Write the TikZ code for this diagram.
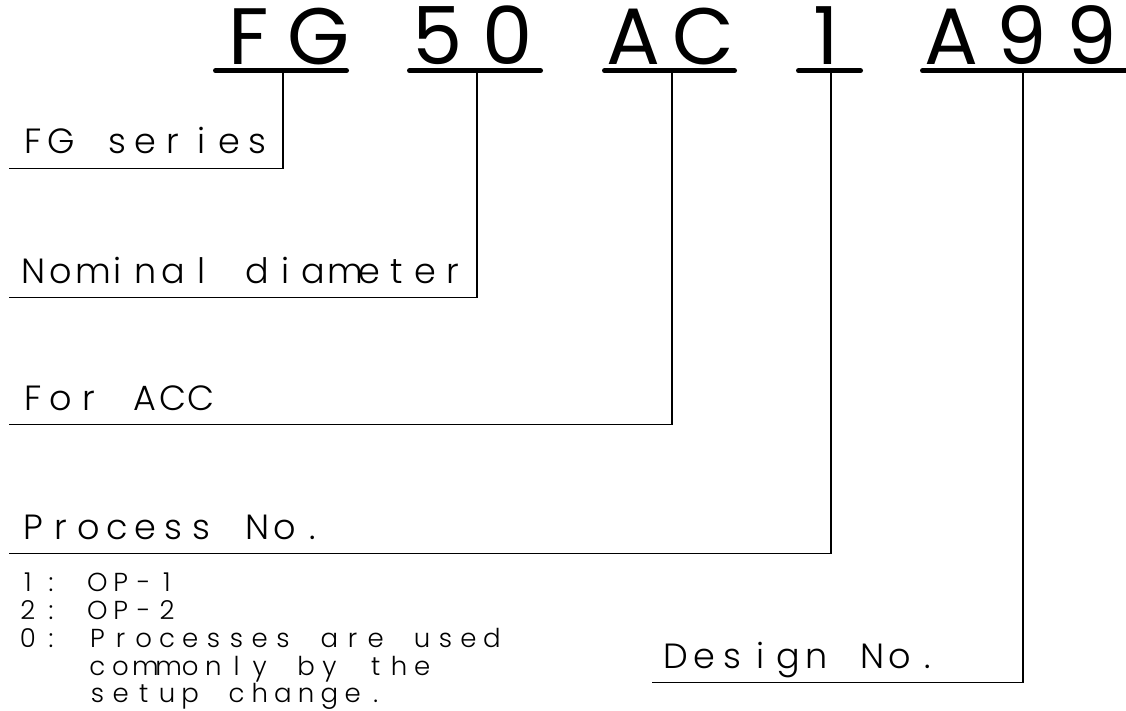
\documentclass[tikz,border=0pt]{standalone}
\usepackage{fontspec}
\newfontfamily\cadbold{Poppins}
\newfontfamily\cadthin{Poppins Light}
\ExplSyntaxOn
\dim_new:N \l_cad_pitch_dim
\seq_new:N \l_cad_words_seq
\NewDocumentCommand\cadtext{mm}
  {
    \dim_set:Nn \l_cad_pitch_dim {#1}
    \seq_set_split:Nnn \l_cad_words_seq {~} {#2}
    \seq_map_indexed_inline:Nn \l_cad_words_seq
      {
        \int_compare:nNnT {##1} > {1} { \hbox_to_wd:nn {\l_cad_pitch_dim} { \hfil } }
        \tl_map_inline:nn {##2} { \hbox_to_wd:nn {\l_cad_pitch_dim} { \hfil ####1 \hfil } }
      }
  }
\ExplSyntaxOff
\tikzset{
  cadtitle/.style={font=\cadbold\fontsize{80}{80}\selectfont, inner sep=0pt, anchor=base},
  cadlabel/.style={font=\cadthin\fontsize{35}{35}\selectfont, inner sep=0pt, anchor=base west},
  cadnote/.style={font=\cadthin\fontsize{26}{26}\selectfont, inner sep=0pt, anchor=base west},
  uline/.style={line width=5pt, line cap=round},
  lead/.style={line width=1.3pt},
}
\begin{document}
\begin{tikzpicture}[x=1pt,y=-1pt]
\useasboundingbox (0,0) rectangle (1126,711);
% title groups
\node[cadtitle] (tFG)  at (283.5,65)  {\cadtext{70pt}{FG}};
\node[cadtitle] (t50)  at (473,65)    {\cadtext{70pt}{50}};
\node[cadtitle] (tAC)  at (668.5,65)  {\cadtext{70pt}{AC}};
\node[cadtitle] (t1)   at (826.5,65)  {\cadtext{70pt}{1}};
\node[cadtitle] (tA99) at (1021.5,65) {\cadtext{70pt}{A99}};
% underlines
\draw[uline] (215.5,70.7) -- (346.5,70.7);
\draw[uline] (409.5,70.7) -- (540.5,70.7);
\draw[uline] (604.5,70.7) -- (734.5,70.7);
\draw[uline] (798.5,70.7) -- (860.5,70.7);
\draw[uline] (922.5,70.7) -- (1130,70.7);
% labels
\node[cadlabel] (lFG) at (19,153.5) {\cadtext{28pt}{FG series}};
\node[cadlabel] (lND) at (19,283.5) {\cadtext{28pt}{Nominal diameter}};
\node[cadlabel] (lAC) at (19,410.5) {\cadtext{28pt}{For ACC}};
\node[cadlabel] (lPN) at (19,539)   {\cadtext{28pt}{Process No.}};
\node[cadlabel] (lDN) at (662,668)  {\cadtext{28pt}{Design No.}};
% leader coordinates
\coordinate (uFG) at (283,70.7);  \coordinate (cFG) at (283,168.3);  \coordinate (eFG) at (9,168.3);
\coordinate (u50) at (477,70.7);  \coordinate (c50) at (477,297.7);  \coordinate (e50) at (9,297.7);
\coordinate (uAC) at (672,70.7);  \coordinate (cAC) at (672,424.3);  \coordinate (eAC) at (9,424.3);
\coordinate (u1)  at (831,70.7);  \coordinate (c1)  at (831,553.3);  \coordinate (e1)  at (9,553.3);
\coordinate (uA)  at (1023,70.7); \coordinate (cA)  at (1023,682.7); \coordinate (eA)  at (652,682.7);
\draw[lead] (uFG) -- (cFG) -- (eFG);
\draw[lead] (u50) -- (c50) -- (e50);
\draw[lead] (uAC) -- (cAC) -- (eAC);
\draw[lead] (u1)  -- (c1)  -- (e1);
\draw[lead] (uA)  -- (cA)  -- (eA);
% notes
\node[cadnote] (n1) at (16,591)   {\cadtext{23.2pt}{1: OP-1}};
\node[cadnote] (n2) at (16,619)   {\cadtext{23.2pt}{2: OP-2}};
\node[cadnote] (n3) at (16,647)   {\cadtext{23.2pt}{0: Processes are used}};
\node[cadnote] (n4) at (85.6,675) {\cadtext{23.2pt}{commonly by the}};
\node[cadnote] (n5) at (85.6,702.5) {\cadtext{23.2pt}{setup change.}};
\end{tikzpicture}
\end{document}
